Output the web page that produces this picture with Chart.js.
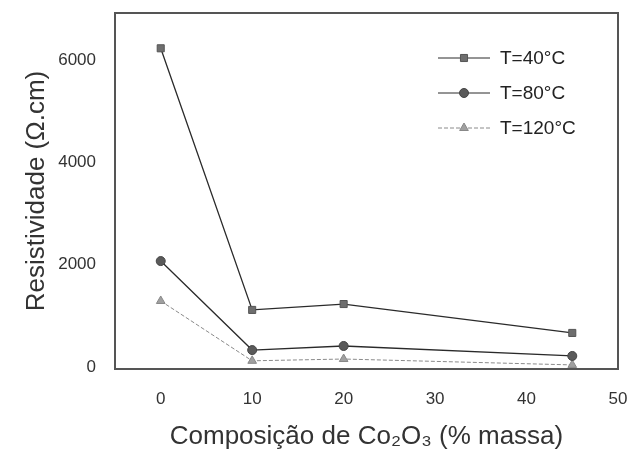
<!DOCTYPE html>
<html>
<head>
<meta charset="utf-8">
<script src="https://cdn.jsdelivr.net/npm/chart.js@4/dist/chart.umd.min.js"></script>
<style>
  html, body { margin: 0; padding: 0; background: #fff; }
  #wrap { width: 631px; height: 455px; }
</style>
</head>
<body>
<div id="wrap"><canvas id="c"></canvas></div>
<script>
// composição de Co2O3 (% massa)
var composicao = [0, 10, 20, 45];
var res40 = [6230, 1115, 1230, 665];
var res80 = [2070, 330, 410, 215];
var res120 = [1290, 120, 155, 40];
var serieNomes = ['T=40°C', 'T=80°C', 'T=120°C'];
var xTicks = [0, 10, 20, 30, 40, 50];
var yTicks = [0, 2000, 4000, 6000];

var fonte = "'Liberation Sans', Arial, sans-serif";

function pontos(vals) {
	var out = [];
	for (var i = 0; i < composicao.length; i++) {
		out.push({x: composicao[i], y: vals[i]});
	}
	return out;
}

// box around the plot area
var moldura = {
	id: 'moldura',
	afterDraw: function (chart) {
		var a = chart.chartArea, ctx = chart.ctx;
		ctx.save();
		ctx.strokeStyle = '#555';
		ctx.lineWidth = 2;
		ctx.strokeRect(a.left, a.top, a.right - a.left, a.bottom - a.top);
		ctx.restore();
	}
};

// legend drawn as line-marker-line, like the original
var legenda = {
	id: 'legenda',
	afterDraw: function (chart) {
		var ctx = chart.ctx;
		var x0 = 438, x1 = 490, tx = 500;
		var ys = [58, 93, 128];
		ctx.save();
		chart.data.datasets.forEach(function (ds, i) {
			var y = ys[i];
			ctx.strokeStyle = ds.borderColor;
			ctx.lineWidth = 1;
			ctx.setLineDash(ds.borderDash || []);
			ctx.beginPath();
			ctx.moveTo(x0, y);
			ctx.lineTo(x1, y);
			ctx.stroke();
			ctx.setLineDash([]);
			ctx.save();
			ctx.fillStyle = ds.pointBackgroundColor;
			ctx.strokeStyle = ds.pointBorderColor;
			ctx.lineWidth = 1;
			Chart.helpers.drawPoint(ctx, {
				pointStyle: ds.pointStyle,
				radius: ds.pointRadius,
				borderWidth: 1
			}, (x0 + x1) / 2, y);
			ctx.restore();
			ctx.fillStyle = '#222';
			ctx.font = '19px ' + fonte;
			ctx.textBaseline = 'middle';
			ctx.fillText(ds.label, tx, y + 1);
		});
		ctx.restore();
	}
};

new Chart(document.getElementById('c'), {
	type: 'scatter',
	data: {
		datasets: [{
			label: serieNomes[0],
			data: pontos(res40),
			showLine: true,
			borderColor: '#2a2a2a',
			borderWidth: 1.3,
			pointStyle: 'rect',
			pointRadius: 5,
			pointBackgroundColor: '#6e6e6e',
			pointBorderColor: '#555',
			pointBorderWidth: 1
		}, {
			label: serieNomes[1],
			data: pontos(res80),
			showLine: true,
			borderColor: '#2a2a2a',
			borderWidth: 1.3,
			pointStyle: 'circle',
			pointRadius: 4.5,
			pointBackgroundColor: '#5a5a5a',
			pointBorderColor: '#444',
			pointBorderWidth: 1
		}, {
			label: serieNomes[2],
			data: pontos(res120),
			showLine: true,
			borderColor: '#8a8a8a',
			borderWidth: 1,
			borderDash: [4, 2],
			pointStyle: 'triangle',
			pointRadius: 5,
			pointBackgroundColor: '#a0a0a0',
			pointBorderColor: '#888',
			pointBorderWidth: 1
		}]
	},
	options: {
		responsive: true,
		maintainAspectRatio: false,
		animation: false,
		layout: { padding: { top: 13, right: 13, left: 0, bottom: 0 } },
		plugins: {
			legend: { display: false },
			tooltip: { enabled: false }
		},
		scales: {
			x: {
				type: 'linear',
				min: -5,
				max: 50,
				grid: { display: false, drawTicks: false },
				border: { display: false },
				afterBuildTicks: function (s) {
					s.ticks = xTicks.map(function (v) { return {value: v}; });
				},
				afterFit: function (s) {
					s.height = 86;
					s.paddingLeft = 0;
					s.paddingRight = 0;
				},
				ticks: {
					padding: 20,
					color: '#333',
					font: { family: fonte, size: 17 },
					maxRotation: 0,
					callback: function (v) { return String(v); }
				},
				title: {
					display: true,
					text: 'Composição de Co₂O₃ (% massa)',
					color: '#333',
					font: { family: fonte, size: 26 },
					padding: { top: 0, bottom: 3 }
				}
			},
			y: {
				min: -40,
				max: 6920,
				grid: { display: false, drawTicks: false },
				border: { display: false },
				afterBuildTicks: function (s) {
					s.ticks = yTicks.map(function (v) { return {value: v}; });
				},
				afterFit: function (s) {
					s.width = 115;
					s.paddingTop = 0;
					s.paddingBottom = 0;
				},
				ticks: {
					padding: 19,
					color: '#333',
					font: { family: fonte, size: 17 },
					callback: function (v) { return String(v); }
				},
				title: {
					display: true,
					text: 'Resistividade (Ω.cm)',
					color: '#333',
					font: { family: fonte, size: 26 },
					padding: { top: 21, bottom: 0 }
				}
			}
		}
	},
	plugins: [moldura, legenda]
});
</script>
</body>
</html>
